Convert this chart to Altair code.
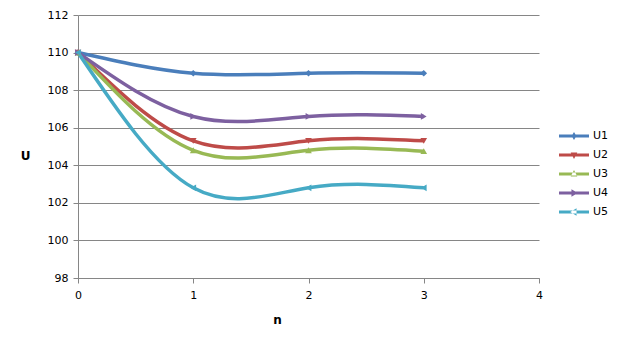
import altair as alt
import pandas as pd

# ---- data ----
n_values = [0, 1, 2, 3]
series_names = ["U1", "U2", "U3", "U4", "U5"]
u1 = [110, 108.9, 108.9, 108.9]
u2 = [110, 105.3, 105.3, 105.3]
u3 = [110, 104.8, 104.8, 104.75]
u4 = [110, 106.6, 106.6, 106.6]
u5 = [110, 102.8, 102.8, 102.8]
x_ticks = [0, 1, 2, 3, 4]
y_ticks = [98, 100, 102, 104, 106, 108, 110, 112]

# ---- styling ----
colors = ["#4A7EBB", "#BE4B48", "#98B954", "#7D60A0", "#46AAC5"]
point_shapes = ["diamond", "triangle-down", "triangle-up", "triangle-right", "triangle-left"]
bar = "M-1,-0.1H1V0.1H-1Z "
legend_shapes = [
    bar + "M0,-0.27L0.16,0L0,0.27L-0.16,0Z",
    bar + "M-0.22,-0.17L0.22,-0.17L0,0.27Z",
    bar + "M-0.22,0.17L0.22,0.17L0,-0.27Z",
    bar + "M-0.17,-0.25L0.25,0L-0.17,0.25Z",
    bar + "M0.17,-0.25L-0.25,0L0.17,0.25Z",
]
gray = "#868686"
font = "DejaVu Sans"

rows = []
for name, vals in zip(series_names, [u1, u2, u3, u4, u5]):
    for n, v in zip(n_values, vals):
        rows.append({"n": n, "U": v, "series": name})
df = pd.DataFrame(rows)

color_scale = alt.Scale(domain=series_names, range=colors)

base = alt.Chart(df).encode(
    x=alt.X(
        "n:Q",
        scale=alt.Scale(domain=[0, 4], nice=False, zero=False),
        axis=alt.Axis(
            values=x_ticks, grid=False, domainColor=gray, tickColor=gray,
            tickSize=5, labelPadding=6, labelFlush=False, labelFont=font,
            labelFontSize=11, labelColor="black", title="n", titleFont=font,
            titleFontSize=12, titleFontWeight="bold", titleColor="black",
            titleX=199, titleY=41, titleAlign="center", titleBaseline="middle",
            format="d",
        ),
    ),
    y=alt.Y(
        "U:Q",
        scale=alt.Scale(domain=[98, 112], nice=False, zero=False),
        axis=alt.Axis(
            values=y_ticks, grid=True, gridColor=gray, domainColor=gray,
            tickColor=gray, tickSize=5, labelPadding=5, labelFont=font,
            labelFontSize=11, labelColor="black", title="U", titleFont=font,
            titleFontSize=12, titleFontWeight="bold", titleColor="black",
            titleAngle=0, titleX=-53, titleY=140, titleAlign="center",
            titleBaseline="middle", format="d",
        ),
    ),
)

lines = base.mark_line(interpolate="natural", strokeWidth=3.5).encode(
    color=alt.Color("series:N", scale=color_scale, legend=None),
)

points = base.mark_point(filled=True, size=45, opacity=1).encode(
    color=alt.Color("series:N", scale=color_scale, legend=None),
    shape=alt.Shape("series:N", scale=alt.Scale(domain=series_names, range=point_shapes), legend=None),
)

leg = dict(
    orient="none", legendX=481, legendY=113, title=None, symbolSize=900,
    clipHeight=16, rowPadding=3, labelFont=font, labelFontSize=11,
    labelColor="black", labelOffset=4, symbolStrokeWidth=0, padding=0,
)

legend_layer = base.mark_point(filled=True, opacity=1).encode(
    color=alt.Color("series:N", scale=color_scale, legend=alt.Legend(**leg)),
    shape=alt.Shape("series:N", scale=alt.Scale(domain=series_names, range=legend_shapes),
                    legend=alt.Legend(**leg)),
).transform_filter("false")

chart = (
    alt.layer(lines, points, legend_layer)
    .resolve_scale(color="independent", shape="independent")
    .properties(
        width=461, height=263,
        autosize=alt.AutoSizeParams(type="none"),
        padding={"left": 70, "top": 7, "right": 77, "bottom": 62},
        background="white",
    )
    .configure_view(stroke=None)
)

chart.save("out.html", embed_options={"renderer": "svg", "actions": False})
